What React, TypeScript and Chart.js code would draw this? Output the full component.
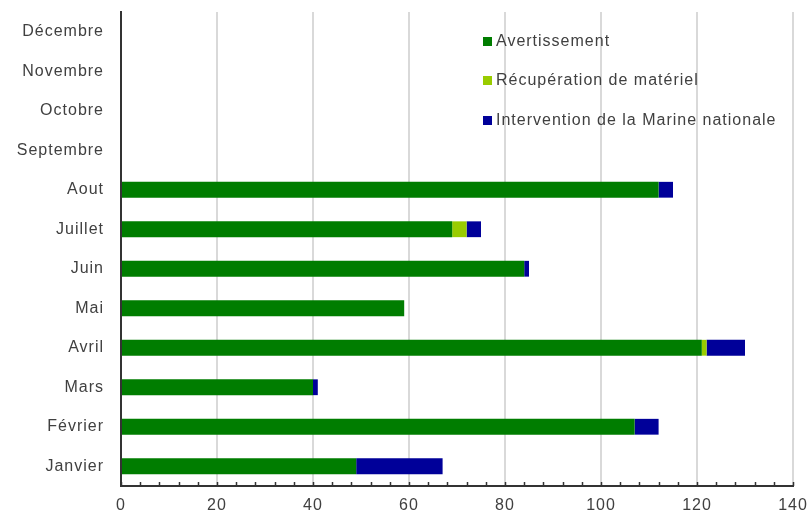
import React, { useEffect, useRef } from 'react';
import { Chart, registerables } from 'chart.js';
Chart.register(...registerables);

const months = ['Janvier', 'Février', 'Mars', 'Avril', 'Mai', 'Juin', 'Juillet', 'Aout', 'Septembre', 'Octobre', 'Novembre', 'Décembre'];
const avertissement = [49, 107, 40, 121, 59, 84, 69, 112, null, null, null, null];
const recuperation = [0, 0, 0, 1, 0, 0, 3, 0, null, null, null, null];
const intervention = [18, 5, 1, 8, 0, 1, 3, 3, null, null, null, null];
const seriesNames = ['Avertissement', 'Récupération de matériel', 'Intervention de la Marine nationale'];
const seriesColors = ['#007d00', '#99cc00', '#000099'];
const xTicks = [0, 20, 40, 60, 80, 100, 120, 140];

const FONT = '"Liberation Sans", Arial, Helvetica, sans-serif';
const TEXT = '#404040';

const spacingPlugin = {
  id: 'letterSpacing',
  beforeLayout(chart: any) { chart.ctx.letterSpacing = '1px'; },
  beforeDraw(chart: any) { chart.ctx.letterSpacing = '1px'; },
};

const minorTicks = {
  id: 'minorTicks',
  afterDraw(chart: any) {
    const x = chart.scales.x;
    const { ctx, chartArea } = chart;
    ctx.save();
    ctx.strokeStyle = '#333333';
    ctx.lineWidth = 1.5;
    for (let v = 0; v <= 140; v += 4) {
      const px = Math.round(x.getPixelForValue(v)) + 0.5;
      ctx.beginPath();
      ctx.moveTo(px, chartArea.bottom);
      ctx.lineTo(px, chartArea.bottom - 4);
      ctx.stroke();
    }
    ctx.restore();
  },
};

export default function App() {
  const ref = useRef<HTMLCanvasElement>(null);
  useEffect(() => {
    document.body.style.margin = '0';
    const chart = new Chart(ref.current!, {
      type: 'bar',
      data: {
        labels: months,
        datasets: [avertissement, recuperation, intervention].map((d, i) => ({
          label: seriesNames[i],
          data: d as any,
          backgroundColor: seriesColors[i],
          borderWidth: 0,
          barPercentage: 0.4,
          categoryPercentage: 1,
        })),
      },
      options: {
        indexAxis: 'y',
        animation: false,
        responsive: true,
        maintainAspectRatio: false,
        layout: { padding: { left: 0, right: 17, top: 12, bottom: 0 } },
        plugins: { legend: { display: false }, tooltip: { enabled: false } },
        scales: {
          x: {
            type: 'linear',
            stacked: true,
            min: 0,
            max: 140,
            afterBuildTicks(scale: any) { scale.ticks = xTicks.map((v) => ({ value: v })); },
            ticks: { stepSize: 20, padding: 10, color: TEXT, font: { family: FONT, size: 16 } },
            grid: { color: '#d9d9d9', lineWidth: 2, drawTicks: false },
            border: { display: true, color: '#333333', width: 2 },
            afterFit(scale: any) { scale.height = 32; scale.paddingLeft = 0; scale.paddingRight = 0; },
          },
          y: {
            stacked: true,
            reverse: true,
            ticks: { padding: 17, color: TEXT, font: { family: FONT, size: 16 } },
            grid: { drawOnChartArea: false, drawTicks: false },
            border: { display: true, color: '#333333', width: 2 },
            afterFit(scale: any) { scale.width = 121; scale.paddingTop = 0; scale.paddingBottom = 0; },
          },
        },
      },
      plugins: [spacingPlugin, minorTicks],
    });
    return () => chart.destroy();
  }, []);

  const legendTop = [41, 80, 120];
  return (
    <div style={{ position: 'relative', width: 810, height: 518 }}>
      <canvas ref={ref} />
      {seriesNames.map((n, i) => (
        <div
          key={n}
          style={{
            position: 'absolute',
            left: 483,
            top: legendTop[i] - 10,
            height: 20,
            display: 'flex',
            alignItems: 'center',
            fontFamily: FONT,
            fontSize: 16,
            letterSpacing: '1px',
            color: TEXT,
            whiteSpace: 'nowrap',
            background: 'transparent',
          }}
        >
          <span style={{ display: 'inline-block', width: 9, height: 9, background: seriesColors[i], marginRight: 4 }} />
          <span>{n}</span>
        </div>
      ))}
    </div>
  );
}
